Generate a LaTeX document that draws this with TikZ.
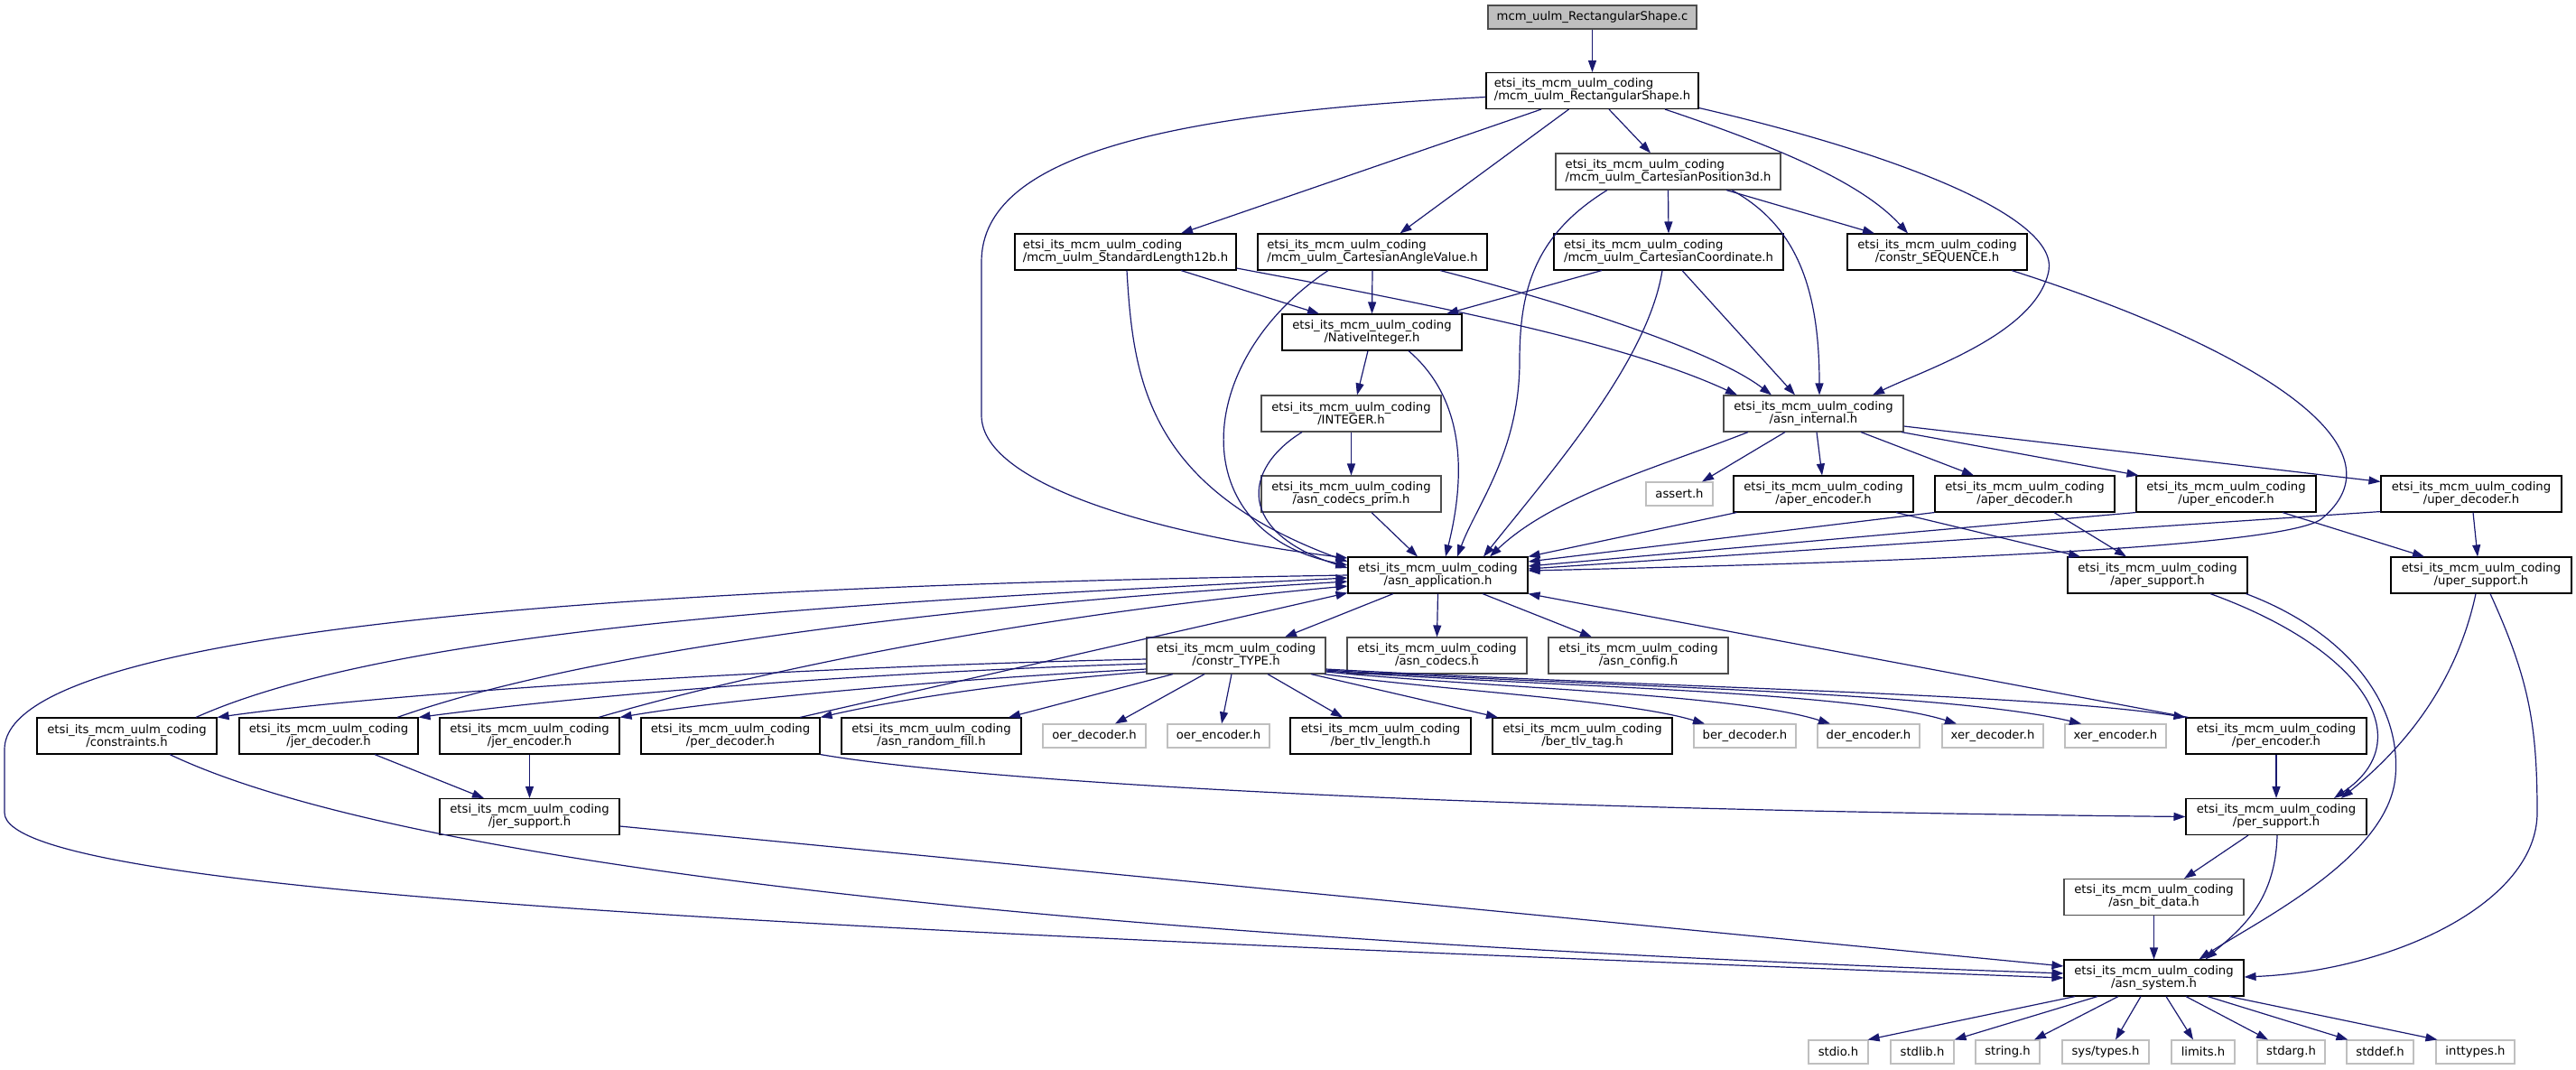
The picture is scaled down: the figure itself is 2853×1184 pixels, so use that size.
\documentclass[tikz,border=0pt]{standalone}
\usepackage{fontspec}
\setmainfont{DejaVu Sans}
\usetikzlibrary{calc,arrows.meta}
\definecolor{edgec}{HTML}{191970}
\definecolor{rootfill}{HTML}{BFBFBF}
\definecolor{sysc}{HTML}{BFBFBF}
\definecolor{darkb}{HTML}{4D4D4D}
\newcommand\labfont{\fontsize{13.2pt}{14pt}\selectfont}
\newcommand\ets{etsi\_its\_mcm\_uulm\_coding}
\newcommand\twolab[2]{%
  \setbox0=\hbox{#1}\setbox2=\hbox{#2}%
  \ifdim\wd0>\wd2 \dimen0=\wd0 \else \dimen0=\wd2 \fi
  \vbox{\hbox to\dimen0{\box0\hfil}\hbox to\dimen0{\hfil\box2\hfil}}}
\begin{document}
\begin{tikzpicture}[x=1pt,y=-1pt,
  hb/.style={draw=black, line width=1.1pt, fill=white, inner sep=0pt, minimum height=40pt, font=\labfont},
  hg/.style={hb, draw=darkb},
  sb/.style={draw=sysc, line width=1.1pt, fill=white, inner sep=0pt, minimum height=26pt, font=\labfont},
  dep/.style={draw=edgec, line width=1.2pt, -{Triangle[length=13pt,width=9pt]}}
]
\useasboundingbox (0,0) rectangle (2853,1184);

% nodes
\node[hg, fill=rootfill, minimum width=231pt, minimum height=26pt] (topC) at (1763.5,19) {mcm\_uulm\_RectangularShape.c};
\node[hb, minimum width=235pt] (RSh) at (1763.5,100.5) {\twolab{\ets}{/mcm\_uulm\_RectangularShape.h}};
\node[hg, minimum width=249pt] (CP3d) at (1847.5,190) {\twolab{\ets}{/mcm\_uulm\_CartesianPosition3d.h}};
\node[hb, minimum width=245pt] (SL12b) at (1246.5,279) {\twolab{\ets}{/mcm\_uulm\_StandardLength12b.h}};
\node[hb, minimum width=254pt] (CAV) at (1520,279) {\twolab{\ets}{/mcm\_uulm\_CartesianAngleValue.h}};
\node[hb, minimum width=254pt] (CC) at (1848,279) {\twolab{\ets}{/mcm\_uulm\_CartesianCoordinate.h}};
\node[hb, minimum width=199pt] (CSEQ) at (2145.5,279) {\twolab{\ets}{/constr\_SEQUENCE.h}};
\node[hb, minimum width=199pt] (NI) at (1519.5,368) {\twolab{\ets}{/NativeInteger.h}};
\node[hg, minimum width=199pt] (INT) at (1496.5,458) {\twolab{\ets}{/INTEGER.h}};
\node[hg, minimum width=199pt] (AI) at (2008.5,458) {\twolab{\ets}{/asn\_internal.h}};
\node[hg, minimum width=199pt] (ACP) at (1496.5,547) {\twolab{\ets}{/asn\_codecs\_prim.h}};
\node[sb, minimum width=74pt] (assert) at (1860,547) {assert.h};
\node[hb, minimum width=199pt] (AE) at (2019.5,547) {\twolab{\ets}{/aper\_encoder.h}};
\node[hb, minimum width=199pt] (AD) at (2242.5,547) {\twolab{\ets}{/aper\_decoder.h}};
\node[hb, minimum width=199pt] (UE) at (2465.5,547) {\twolab{\ets}{/uper\_encoder.h}};
\node[hb, minimum width=200pt] (UD) at (2737,547) {\twolab{\ets}{/uper\_decoder.h}};
\node[hb, minimum width=199pt] (AA) at (1592.5,637) {\twolab{\ets}{/asn\_application.h}};
\node[hb, minimum width=199pt] (AS) at (2389.5,637) {\twolab{\ets}{/aper\_support.h}};
\node[hb, minimum width=200pt] (US) at (2748,637) {\twolab{\ets}{/uper\_support.h}};
\node[hg, minimum width=198pt] (CT) at (1369,726) {\twolab{\ets}{/constr\_TYPE.h}};
\node[hg, minimum width=199pt] (ACS) at (1591.5,726) {\twolab{\ets}{/asn\_codecs.h}};
\node[hg, minimum width=199pt] (ACF) at (1814.5,726) {\twolab{\ets}{/asn\_config.h}};
\node[hb, minimum width=199pt] (CON) at (140.5,815) {\twolab{\ets}{/constraints.h}};
\node[hb, minimum width=198pt] (JD) at (364,815) {\twolab{\ets}{/jer\_decoder.h}};
\node[hb, minimum width=199pt] (JE) at (586.5,815) {\twolab{\ets}{/jer\_encoder.h}};
\node[hb, minimum width=198pt] (PD) at (809,815) {\twolab{\ets}{/per\_decoder.h}};
\node[hb, minimum width=199pt] (ARF) at (1031.5,815) {\twolab{\ets}{/asn\_random\_fill.h}};
\node[sb, minimum width=114pt] (OD) at (1212,815) {oer\_decoder.h};
\node[sb, minimum width=113pt] (OE) at (1349.5,815) {oer\_encoder.h};
\node[hb, minimum width=200pt] (BTL) at (1529,815) {\twolab{\ets}{/ber\_tlv\_length.h}};
\node[hb, minimum width=199pt] (BTT) at (1752.5,815) {\twolab{\ets}{/ber\_tlv\_tag.h}};
\node[sb, minimum width=113pt] (BD) at (1932.5,815) {ber\_decoder.h};
\node[sb, minimum width=113pt] (DE) at (2069.5,815) {der\_encoder.h};
\node[sb, minimum width=112pt] (XD) at (2207,815) {xer\_decoder.h};
\node[sb, minimum width=112pt] (XE) at (2343,815) {xer\_encoder.h};
\node[hb, minimum width=200pt] (PE) at (2521,815) {\twolab{\ets}{/per\_encoder.h}};
\node[hb, minimum width=199pt] (JS) at (586.5,904.5) {\twolab{\ets}{/jer\_support.h}};
\node[hb, minimum width=200pt] (PS) at (2521,904.5) {\twolab{\ets}{/per\_support.h}};
\node[hg, minimum width=199pt] (ABD) at (2385.5,993.5) {\twolab{\ets}{/asn\_bit\_data.h}};
\node[hb, minimum width=199pt] (ASY) at (2385.5,1083) {\twolab{\ets}{/asn\_system.h}};
\node[sb, minimum width=66pt] (stdio) at (2036,1165) {stdio.h};
\node[sb, minimum width=70pt] (stdlib) at (2129,1165) {stdlib.h};
\node[sb, minimum width=71pt] (string) at (2223.5,1165) {string.h};
\node[sb, minimum width=96pt] (systypes) at (2332,1165) {sys/types.h};
\node[sb, minimum width=70pt] (limits) at (2440,1165) {limits.h};
\node[sb, minimum width=75pt] (stdarg) at (2537.5,1165) {stdarg.h};
\node[sb, minimum width=74pt] (stddef) at (2636,1165) {stddef.h};
\node[sb, minimum width=87pt] (inttypes) at (2741.5,1165) {inttypes.h};

% edges
\draw[dep] (topC) -- (RSh);
\draw[dep] ($(RSh.west)+(0,7)$) .. controls (1300,125) and (1087,170) .. (1087,290) -- (1087,460) .. controls (1087,540) and (1300,595) .. ($(AA.west)+(0,-19)$);
\draw[dep] ($(RSh.south)+(-56.5,0)$) -- ($(SL12b.north)+(61.5,0)$);
\draw[dep] ($(RSh.south)+(-26,0)$) -- ($(CAV.north)+(30.5,0)$);
\draw[dep] ($(RSh.south)+(18.5,0)$) -- ($(CP3d.north)+(-19.5,0)$);
\draw[dep] ($(RSh.south)+(80.5,0)$) .. controls (1960,160) and (2060,200) .. ($(CSEQ.north)+(-32.5,0)$);
\draw[dep] ($(RSh.east)+(0,19)$) .. controls (2100,170) and (2280,240) .. (2269,300) .. controls (2255,370) and (2130,410) .. ($(AI.north)+(65.5,0)$);

\draw[dep] (CP3d.south) -- (CC.north);
\draw[dep] ($(CP3d.south)+(64.5,0)$) -- ($(CSEQ.north)+(-69.5,0)$);
\draw[dep] ($(CP3d.south)+(-67.5,0)$) .. controls (1700,260) and (1683,320) .. (1683,400) .. controls (1683,500) and (1635,560) .. ($(AA.north)+(21.5,0)$);
\draw[dep] ($(CP3d.south)+(70.5,0)$) .. controls (1990,250) and (2015,320) .. ($(AI.north)+(6.5,0)$);

\draw[dep] ($(SL12b.south)+(1.5,0)$) .. controls (1255,420) and (1270,540) .. ($(AA.west)+(0,-15)$);
\draw[dep] ($(SL12b.south)+(61.5,0)$) -- ($(NI.north)+(-58.5,0)$);
\draw[dep] ($(SL12b.east)+(0,18)$) .. controls (1600,340) and (1800,380) .. ($(AI.north)+(-84.5,0)$);

\draw[dep] (CAV.south) -- (NI.north);
\draw[dep] ($(CAV.south)+(-49,0)$) .. controls (1320,400) and (1310,590) .. ($(AA.west)+(0,-11)$);
\draw[dep] ($(CAV.south)+(75,0)$) .. controls (1750,340) and (1900,390) .. ($(AI.north)+(-46.5,0)$);

\draw[dep] ($(CC.south)+(-74,0)$) -- ($(NI.north)+(82.5,0)$);
\draw[dep] ($(CC.south)+(15,0)$) -- ($(AI.north)+(-20.5,0)$);
\draw[dep] ($(CC.south)+(-7,0)$) .. controls (1825,400) and (1720,520) .. ($(AA.north)+(50.5,0)$);

\draw[dep] ($(CSEQ.south)+(82.5,0)$) .. controls (2480,380) and (2670,490) .. (2573,573) .. controls (2540,610) and (2000,625) .. ($(AA.east)+(0,-5)$);

\draw[dep] ($(NI.south)+(-4.5,0)$) -- ($(INT.north)+(6.5,0)$);
\draw[dep] ($(NI.south)+(40.5,0)$) .. controls (1620,440) and (1625,520) .. ($(AA.north)+(8.5,0)$);

\draw[dep] (INT.south) -- (ACP.north);
\draw[dep] ($(INT.south)+(-54.5,0)$) .. controls (1375,520) and (1370,590) .. ($(AA.west)+(0,-8)$);
\draw[dep] ($(ACP.south)+(22.5,0)$) -- ($(AA.north)+(-22.5,0)$);

\draw[dep] ($(AI.south)+(-72.5,0)$) .. controls (1830,520) and (1720,550) .. ($(AA.north)+(57.5,0)$);
\draw[dep] ($(AI.south)+(-31.5,0)$) -- ($(assert.north)+(25,0)$);
\draw[dep] ($(AI.south)+(3.5,0)$) -- ($(AE.north)+(-1.5,0)$);
\draw[dep] ($(AI.south)+(52.5,0)$) -- ($(AD.north)+(-56.5,0)$);
\draw[dep] ($(AI.south)+(97.5,0)$) -- ($(UE.north west)+(3,0)$);
\draw[dep] ($(AI.east)+(0,14)$) -- ($(UD.north west)+(0,7)$);

\draw[dep] ($(AE.south west)+(4,0)$) -- (AA.north east);
\draw[dep] (AD.south west) -- ($(AA.east)+(0,-15)$);
\draw[dep] (UE.south west) -- ($(AA.east)+(0,-10)$);
\draw[dep] ($(UD.south west)+(0,-1)$) -- ($(AA.east)+(0,-7)$);

\draw[dep] ($(AE.south)+(80.5,0)$) -- ($(AS.north)+(-85.5,0)$);
\draw[dep] ($(AD.south)+(32.5,0)$) -- ($(AS.north)+(-34.5,0)$);
\draw[dep] ($(UE.south)+(62.5,0)$) -- ($(US.north)+(-63,0)$);
\draw[dep] ($(UD.south)+(2,0)$) -- ($(US.north)+(-4,0)$);

\draw[dep] ($(AS.south)+(58.5,0)$) .. controls (2620,720) and (2680,820) .. ($(PS.north)+(64,0)$);
\draw[dep] ($(AS.south east)+(-2,0)$) .. controls (2600,700) and (2660,780) .. (2653,860) .. controls (2645,950) and (2500,1020) .. ($(ASY.north)+(50,0)$);
\draw[dep] ($(US.south)+(-6,0)$) .. controls (2720,760) and (2660,830) .. ($(PS.north)+(72,0)$);
\draw[dep] ($(US.south)+(10,0)$) .. controls (2800,750) and (2810,800) .. (2810,900) .. controls (2810,1000) and (2650,1075) .. ($(ASY.east)+(0,-1)$);

\draw[dep] (PE.south) -- (PS.north);
\draw[dep] ($(PS.south)+(-31,0)$) -- ($(ABD.north)+(33.5,0)$);
\draw[dep] ($(PS.south)+(1,0)$) .. controls (2520,1000) and (2480,1030) .. ($(ASY.north)+(57,0)$);
\draw[dep] (ABD.south) -- (ASY.north);

\draw[dep] ($(ASY.south)+(-87.5,0)$) -- ($(stdio.north east)+(-1,0)$);
\draw[dep] ($(ASY.south)+(-62.5,0)$) -- (stdlib.north east);
\draw[dep] ($(ASY.south)+(-39.5,0)$) -- ($(string.north)+(29.5,0)$);
\draw[dep] ($(ASY.south)+(-14.5,0)$) -- ($(systypes.north)+(11,0)$);
\draw[dep] ($(ASY.south)+(13.5,0)$) -- ($(limits.north)+(-11,0)$);
\draw[dep] ($(ASY.south)+(35.5,0)$) -- ($(stdarg.north)+(-25.5,0)$);
\draw[dep] ($(ASY.south)+(59.5,0)$) -- ($(stddef.north west)+(2,0)$);
\draw[dep] ($(ASY.south)+(83.5,0)$) -- ($(inttypes.north west)+(2,0)$);

\draw[dep] ($(AA.south)+(-49.5,0)$) -- ($(CT.north)+(54,0)$);
\draw[dep] (AA.south) -- (ACS.north);
\draw[dep] ($(AA.south)+(49.5,0)$) -- ($(ACF.north)+(-51.5,0)$);
\draw[dep] (AA.west) .. controls (1000,645) and (5,670) .. (5,830) -- (5,900) .. controls (5,990) and (900,1030) .. (ASY.west);

\draw[dep] ($(CON.north)+(76.5,0)$) .. controls (450,690) and (1000,665) .. ($(AA.west)+(0,3)$);
\draw[dep] ($(JD.north)+(76,0)$) .. controls (650,720) and (1050,670) .. ($(AA.west)+(0,7)$);
\draw[dep] ($(JE.north)+(76.5,0)$) .. controls (850,740) and (1150,680) .. ($(AA.west)+(0,12)$);
\draw[dep] ($(PD.north)+(77,0)$) -- ($(AA.south west)+(0,-1)$);

\draw[dep] ($(CT.west)+(0,4)$) .. controls (900,738) and (450,765) .. (CON.north east);
\draw[dep] ($(CT.west)+(0,9)$) .. controls (950,745) and (650,770) .. (JD.north east);
\draw[dep] ($(CT.west)+(0,15)$) .. controls (1050,752) and (800,775) .. (JE.north east);
\draw[dep] ($(CT.west)+(0,18)$) .. controls (1100,757) and (980,778) .. (PD.north east);

\draw[dep] ($(CT.south)+(-70,0)$) -- ($(ARF.north)+(85.5,0)$);
\draw[dep] ($(CT.south)+(-35,0)$) -- ($(OD.north)+(23,0)$);
\draw[dep] ($(CT.south)+(-5,0)$) -- ($(OE.north)+(3.5,0)$);
\draw[dep] ($(CT.south)+(35,0)$) -- ($(BTL.north)+(-42,0)$);
\draw[dep] ($(CT.south)+(83,0)$) -- ($(BTT.north)+(-93.5,0)$);
\draw[dep] ($(CT.south east)+(-2,0)$) .. controls (1600,765) and (1800,775) .. ($(BD.north)+(-44.5,0)$);
\draw[dep] ($(CT.east)+(0,18)$) .. controls (1650,762) and (1920,768) .. ($(DE.north)+(-42.5,0)$);
\draw[dep] ($(CT.east)+(0,17)$) .. controls (1700,760) and (2050,765) .. ($(XD.north)+(-40,0)$);
\draw[dep] ($(CT.east)+(0,16)$) .. controls (1750,760) and (2150,765) .. ($(XE.north)+(-38,0)$);
\draw[dep] ($(CT.east)+(0,15)$) .. controls (1850,762) and (2250,768) .. (PE.north west);
\draw[dep] ($(PE.north west)+(3,0)$) -- (AA.south east);

\draw[dep] ($(JD.south)+(51,0)$) -- ($(JS.north)+(-50.5,0)$);
\draw[dep] (JE.south) -- (JS.north);
\draw[dep] ($(JS.east)+(0,10.5)$) -- ($(ASY.west)+(0,-13)$);
\draw[dep] ($(CON.south)+(47.5,0)$) .. controls (450,960) and (1200,1040) .. ($(ASY.west)+(0,-5)$);
\draw[dep] (PD.south east) .. controls (1050,860) and (1500,895) .. (PS.west);
\end{tikzpicture}
\end{document}
